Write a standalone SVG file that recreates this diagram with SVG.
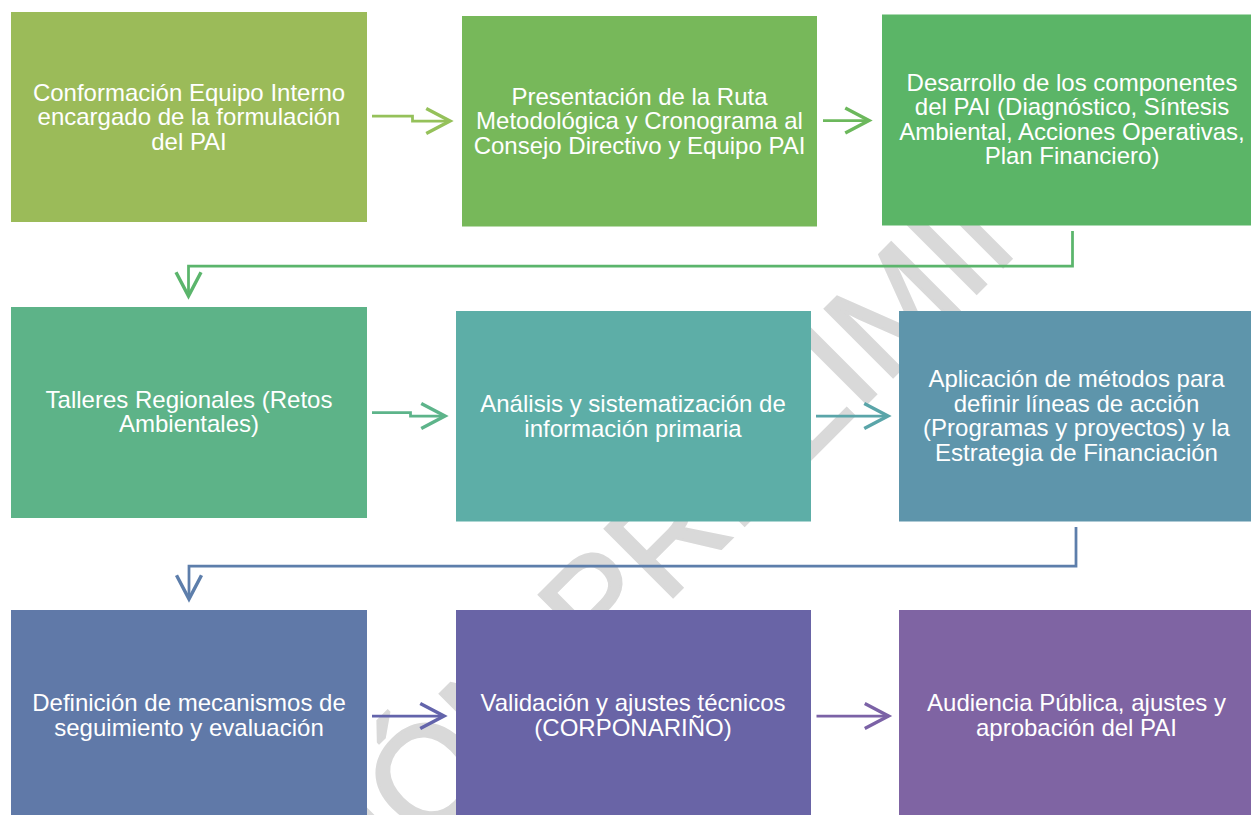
<svg xmlns="http://www.w3.org/2000/svg" width="1251" height="815" viewBox="0 0 1251 815">
<style>
.lbl{font-family:"Liberation Sans",Arial,sans-serif;font-size:24px;fill:#ffffff;text-anchor:middle}
.wm{font-family:"Liberation Sans",Arial,sans-serif;font-size:140px;fill:#d9d9d9;stroke:#d9d9d9;stroke-width:2.5;text-anchor:middle}
.con{fill:none;stroke-width:2.75;stroke-linejoin:miter}
</style>
<defs>
<marker id="a1" markerUnits="userSpaceOnUse" markerWidth="30" markerHeight="30" refX="20" refY="12" orient="auto" viewBox="0 0 24 24"><path d="M1 2 L20 12 L1 22" fill="none" stroke="#95c15a" stroke-width="2.75"/></marker>
<marker id="a2" markerUnits="userSpaceOnUse" markerWidth="30" markerHeight="30" refX="20" refY="12" orient="auto" viewBox="0 0 24 24"><path d="M1 2 L20 12 L1 22" fill="none" stroke="#6cb85c" stroke-width="2.75"/></marker>
<marker id="a3" markerUnits="userSpaceOnUse" markerWidth="30" markerHeight="30" refX="20" refY="12" orient="auto" viewBox="0 0 24 24"><path d="M1 2 L20 12 L1 22" fill="none" stroke="#5bb56c" stroke-width="2.75"/></marker>
<marker id="a4" markerUnits="userSpaceOnUse" markerWidth="30" markerHeight="30" refX="20" refY="12" orient="auto" viewBox="0 0 24 24"><path d="M1 2 L20 12 L1 22" fill="none" stroke="#5db48a" stroke-width="2.75"/></marker>
<marker id="a5" markerUnits="userSpaceOnUse" markerWidth="30" markerHeight="30" refX="20" refY="12" orient="auto" viewBox="0 0 24 24"><path d="M1 2 L20 12 L1 22" fill="none" stroke="#5aa5a9" stroke-width="2.75"/></marker>
<marker id="a6" markerUnits="userSpaceOnUse" markerWidth="30" markerHeight="30" refX="20" refY="12" orient="auto" viewBox="0 0 24 24"><path d="M1 2 L20 12 L1 22" fill="none" stroke="#5d7eab" stroke-width="2.75"/></marker>
<marker id="a7" markerUnits="userSpaceOnUse" markerWidth="30" markerHeight="30" refX="20" refY="12" orient="auto" viewBox="0 0 24 24"><path d="M1 2 L20 12 L1 22" fill="none" stroke="#6364ab" stroke-width="2.75"/></marker>
<marker id="a8" markerUnits="userSpaceOnUse" markerWidth="30" markerHeight="30" refX="20" refY="12" orient="auto" viewBox="0 0 24 24"><path d="M1 2 L20 12 L1 22" fill="none" stroke="#7b62a6" stroke-width="2.75"/></marker>
</defs>
<rect width="1251" height="815" fill="#ffffff"/>
<text class="wm" transform="translate(665 605) rotate(-45)">VERSIÓN PRELIMINAR</text>
<g id="connectors">
<path class="con" stroke="#95c15a" d="M372 116 H412.5 V121 H450" marker-end="url(#a1)"/>
<path class="con" stroke="#6cb85c" d="M823 120.5 H869" marker-end="url(#a2)"/>
<path class="con" stroke="#5bb56c" d="M1072.5 231 V266 H188.5 V296" marker-end="url(#a3)"/>
<path class="con" stroke="#5db48a" d="M372 412.5 H410.5 V416 H445" marker-end="url(#a4)"/>
<path class="con" stroke="#5aa5a9" d="M816 416 H888" marker-end="url(#a5)"/>
<path class="con" stroke="#5d7eab" d="M1076 527 V566 H189 V599" marker-end="url(#a6)"/>
<path class="con" stroke="#6364ab" d="M372 716 H444" marker-end="url(#a7)"/>
<path class="con" stroke="#7b62a6" d="M816.5 716 H888.5" marker-end="url(#a8)"/>
</g>
<g id="n1"><rect x="11" y="12" width="356" height="210" fill="#9bbb59"/>
<text class="lbl"><tspan x="189" y="100.5">Conformación Equipo Interno</tspan><tspan x="189" y="125">encargado de la formulación</tspan><tspan x="189" y="149.5">del PAI</tspan></text></g>
<g id="n2"><rect x="462" y="16" width="355" height="210.5" fill="#77b85a"/>
<text class="lbl"><tspan x="639.5" y="104.5">Presentación de la Ruta</tspan><tspan x="639.5" y="129">Metodológica y Cronograma al</tspan><tspan x="639.5" y="153.5">Consejo Directivo y Equipo PAI</tspan></text></g>
<g id="n3"><rect x="882" y="14.5" width="380" height="211" fill="#5bb567"/>
<text class="lbl"><tspan x="1072" y="90.75">Desarrollo de los componentes</tspan><tspan x="1072" y="115.25">del PAI (Diagnóstico, Síntesis</tspan><tspan x="1072" y="139.75">Ambiental, Acciones Operativas,</tspan><tspan x="1072" y="164.25">Plan Financiero)</tspan></text></g>
<g id="n4"><rect x="11" y="307" width="356" height="211" fill="#5db388"/>
<text class="lbl"><tspan x="189" y="407.75">Talleres Regionales (Retos</tspan><tspan x="189" y="432.25">Ambientales)</tspan></text></g>
<g id="n5"><rect x="456" y="311" width="355" height="210.5" fill="#5daea7"/>
<text class="lbl"><tspan x="633" y="412.25">Análisis y sistematización de</tspan><tspan x="633" y="436.75">información primaria</tspan></text></g>
<g id="n6"><rect x="899" y="311" width="356" height="210.5" fill="#5e95ab"/>
<text class="lbl"><tspan x="1076.5" y="387.25">Aplicación de métodos para</tspan><tspan x="1076.5" y="411.75">definir líneas de acción</tspan><tspan x="1076.5" y="436.25">(Programas y proyectos) y la</tspan><tspan x="1076.5" y="460.75">Estrategia de Financiación</tspan></text></g>
<g id="n7"><rect x="11" y="610" width="356" height="210" fill="#6079a8"/>
<text class="lbl"><tspan x="189" y="711.25">Definición de mecanismos de</tspan><tspan x="189" y="735.75">seguimiento y evaluación</tspan></text></g>
<g id="n8"><rect x="456" y="610" width="355" height="210" fill="#6964a6"/>
<text class="lbl"><tspan x="633" y="711.25">Validación y ajustes técnicos</tspan><tspan x="633" y="735.75">(CORPONARIÑO)</tspan></text></g>
<g id="n9"><rect x="899" y="610" width="356" height="210" fill="#7f64a3"/>
<text class="lbl"><tspan x="1076.5" y="711.25">Audiencia Pública, ajustes y</tspan><tspan x="1076.5" y="735.75">aprobación del PAI</tspan></text></g>
</svg>
